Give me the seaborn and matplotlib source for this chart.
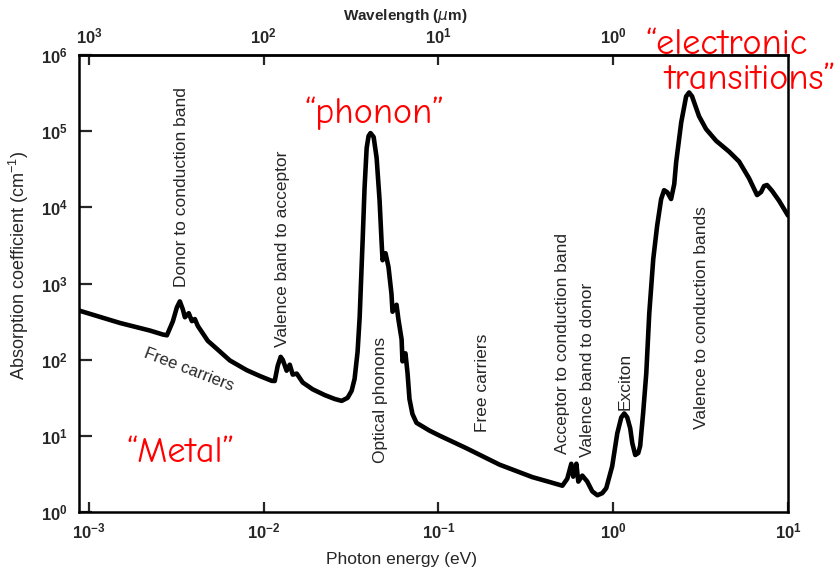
import numpy as np
import pandas as pd
import matplotlib
matplotlib.use("Agg")
import matplotlib.pyplot as plt
import seaborn as sns

# ---- data (log10 values) ----
log_energy = [-3.057, -2.823, -2.651, -2.577, -2.554, -2.520, -2.497, -2.480, -2.463, -2.451,
              -2.429, -2.411, -2.394, -2.377, -2.320, -2.269, -2.194, -2.097, -2.023, -1.954,
              -1.937, -1.920, -1.903, -1.891, -1.869, -1.851, -1.834, -1.811, -1.777, -1.720,
              -1.651, -1.594, -1.554, -1.520, -1.497, -1.480, -1.463, -1.451, -1.440, -1.434,
              -1.423, -1.411, -1.400, -1.389, -1.371, -1.354, -1.337, -1.326, -1.320, -1.303,
              -1.286, -1.269, -1.263, -1.240, -1.229, -1.211, -1.206, -1.189, -1.177, -1.166,
              -1.149, -1.126, -1.051, -0.994, -0.840, -0.651, -0.463, -0.366, -0.291, -0.263,
              -0.240, -0.229, -0.211, -0.200, -0.177, -0.149, -0.120, -0.091, -0.063, -0.040,
              -0.006, 0.023, 0.046, 0.063, 0.080, 0.097, 0.109, 0.126, 0.143, 0.154,
              0.171, 0.189, 0.206, 0.229, 0.251, 0.274, 0.291, 0.309, 0.331, 0.349,
              0.360, 0.389, 0.417, 0.434, 0.451, 0.463, 0.491, 0.531, 0.589, 0.663,
              0.720, 0.777, 0.823, 0.846, 0.863, 0.880, 0.909, 0.949, 1.000]
log_alpha = [2.645, 2.482, 2.382, 2.330, 2.320, 2.503, 2.686, 2.765, 2.661, 2.557,
             2.610, 2.506, 2.533, 2.442, 2.247, 2.144, 1.990, 1.862, 1.786, 1.722,
             1.720, 1.919, 2.037, 1.998, 1.855, 1.934, 1.804, 1.817, 1.701, 1.611,
             1.535, 1.484, 1.459, 1.499, 1.591, 1.748, 2.101, 2.558, 3.211, 3.564,
             4.256, 4.779, 4.936, 4.975, 4.923, 4.650, 4.089, 3.567, 3.306, 3.398,
             3.216, 2.864, 2.629, 2.721, 2.525, 2.265, 1.978, 2.083, 1.822, 1.483,
             1.287, 1.171, 1.068, 1.003, 0.837, 0.622, 0.458, 0.395, 0.345, 0.437,
             0.633, 0.464, 0.634, 0.399, 0.478, 0.401, 0.271, 0.220, 0.247, 0.313,
             0.601, 1.032, 1.242, 1.294, 1.243, 1.100, 0.904, 0.748, 0.774, 0.866,
             1.297, 1.820, 2.604, 3.322, 3.754, 4.107, 4.225, 4.199, 4.109, 4.305,
             4.592, 5.115, 5.456, 5.508, 5.457, 5.378, 5.196, 5.028, 4.873, 4.731,
             4.602, 4.382, 4.161, 4.201, 4.280, 4.293, 4.216, 4.086, 3.892]

energy_ticks = [1e-3, 1e-2, 1e-1, 1e0, 1e1]
energy_ticklabels = [r'$\mathregular{10^{-3}}$', r'$\mathregular{10^{-2}}$', r'$\mathregular{10^{-1}}$',
                     r'$\mathregular{10^{0}}$', r'$\mathregular{10^{1}}$']
alpha_ticks = [1e0, 1e1, 1e2, 1e3, 1e4, 1e5, 1e6]
alpha_ticklabels = [r'$\mathregular{10^{%d}}$' % k for k in range(7)]
wavelength_ticks = [1e3, 1e2, 1e1, 1e0]
wavelength_ticklabels = [r'$\mathregular{10^{3}}$', r'$\mathregular{10^{2}}$',
                         r'$\mathregular{10^{1}}$', r'$\mathregular{10^{0}}$']

process_labels = ["Donor to conduction band", "Valence band to acceptor", "Optical phonons",
                  "Free carriers", "Acceptor to conduction band", "Valence band to donor",
                  "Exciton", "Valence to conduction bands"]
process_pos_px = [(181, 187), (283, 249), (380, 400), (483, 383), (562, 343),
                  (588, 370), (625, 381), (702, 318)]

df = pd.DataFrame({"energy": 10 ** np.array(log_energy), "alpha": 10 ** np.array(log_alpha)})

# ---- style ----
sns.set_style("white")
plt.rcParams['font.family'] = ['Liberation Sans', 'DejaVu Sans']
plt.rcParams['mathtext.fontset'] = 'custom'
plt.rcParams['mathtext.rm'] = 'Liberation Sans'

W, H = 835, 572
fig = plt.figure(figsize=(W / 100, H / 100), dpi=100)
ax = fig.add_axes([79 / W, 1 - 512 / H, (788 - 79) / W, (512 - 55) / H])

sns.lineplot(data=df, x="energy", y="alpha", ax=ax, color="black", lw=3.3,
             sort=False, estimator=None)
line = ax.lines[0]
line.set_solid_joinstyle('round')
line.set_solid_capstyle('round')

ax.set_xscale('log')
ax.set_yscale('log')
ax.set_xlim(10 ** -3.057, 10.0)
ax.set_ylim(1.0, 1e6)

for s in ax.spines.values():
    s.set_linewidth(1.8)
    s.set_color('black')

ax.set_xticks(energy_ticks)
ax.set_xticklabels(energy_ticklabels, fontsize=12, fontweight='bold')
ax.set_yticks(alpha_ticks)
ax.set_yticklabels(alpha_ticklabels, fontsize=12, fontweight='bold')
ax.minorticks_off()
ax.tick_params(axis='x', which='major', direction='in', length=7, width=1.6, pad=7,
               bottom=True, top=False)
ax.tick_params(axis='y', which='major', direction='in', length=9, width=1.6, pad=8,
               left=True, right=False)

ax.set_xlabel("Photon energy (eV)", fontsize=12.5)
ax.xaxis.set_label_coords((402 - 79) / 709, (512 - 552) / 457)
ax.set_ylabel(r"Absorption coefficient (cm$^{-1}$)", fontsize=13)
ax.yaxis.set_label_coords((31 - 79) / 709, (512 - 265) / 457)

sec = ax.secondary_xaxis('top', functions=(lambda e: 1.0 / e, lambda l: 1.0 / l))
sec.set_xticks(wavelength_ticks)
sec.set_xticklabels(wavelength_ticklabels, fontsize=12, fontweight='bold')
sec.minorticks_off()
sec.tick_params(axis='x', which='major', direction='in', length=7, width=1.6, pad=6)
sec.spines['top'].set_linewidth(1.8)
sec.set_xlabel(r"Wavelength ($\mu$m)", fontsize=11, fontweight='bold')
sec.xaxis.set_label_coords(405 / W, 1 - 25 / H, transform=fig.transFigure)
sec.xaxis.label.set_verticalalignment('bottom')


def fpos(px, py):
    return px / W, 1 - py / H


for lab, (px, py) in zip(process_labels, process_pos_px):
    fig.text(*fpos(px, py), lab, rotation=90, ha='center', va='center', fontsize=12.5)

fig.text(*fpos(189, 370), "Free carriers", rotation=-21, rotation_mode='anchor',
         ha='center', va='center', fontsize=12)

red = '#ff0000'
red_font = ['Comic Neue', 'DejaVu Sans']
fig.text(*fpos(181, 453), "\u201cMetal\u201d", color=red, fontsize=26, ha='center', va='center',
         family=red_font)
fig.text(*fpos(375, 113), "\u201cphonon\u201d", color=red, fontsize=26, ha='center', va='center',
         family=red_font)
fig.text(*fpos(727, 45), "\u201celectronic", color=red, fontsize=26, ha='center', va='center',
         family=red_font)
fig.text(*fpos(750, 80), "transitions\u201d", color=red, fontsize=26, ha='center', va='center',
         family=red_font)

fig.savefig("out.png", dpi=100, facecolor='white')
